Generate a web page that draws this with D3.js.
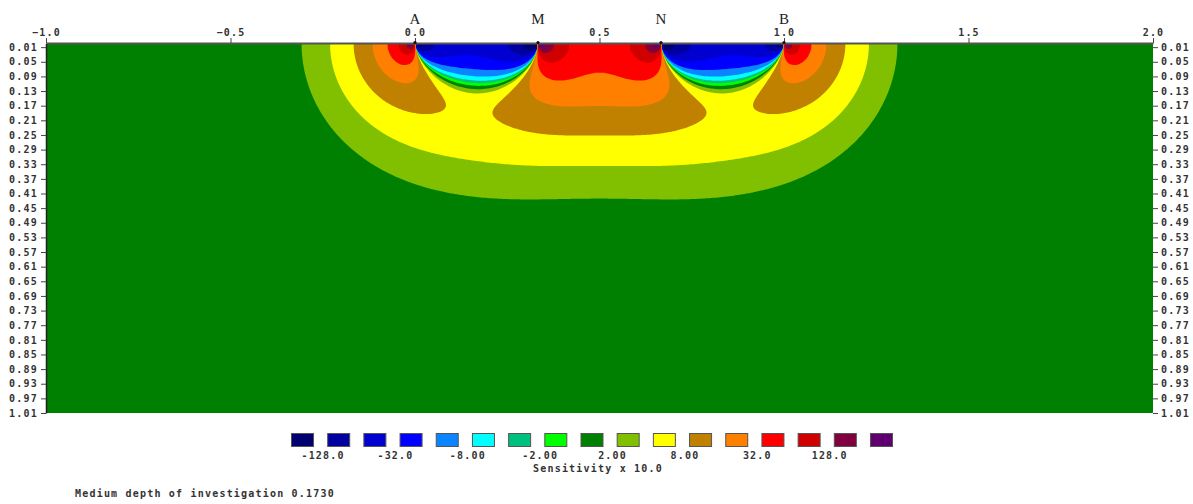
<!DOCTYPE html>
<html>
<head>
<meta charset="utf-8">
<script src="https://cdn.jsdelivr.net/npm/d3@7"></script>
<style>
  body { margin: 0; background: #fff; }
  text { font-family: "DejaVu Sans Mono", monospace; }
</style>
</head>
<body>
<svg id="chart" width="1193" height="504"></svg>
<script>
// electrodes of the Wenner array (position along the line, label)
const electrodeNames = ['A', 'M', 'N', 'B'];
const electrodeX = [0, 1 / 3, 2 / 3, 1];
// current electrode, potential electrode, sign of each pole-pole term
const electrodePairs = [[0, 1, 1], [0, 2, -1], [3, 1, -1], [3, 2, 1]];
const sensFactor = 10; // "Sensitivity x 10.0"
const topModelDepth = 0.01; // first model row

const xTicks = [-1.0, -0.5, 0.0, 0.5, 1.0, 1.5, 2.0];
const depthTicks = [0.01, 0.05, 0.09, 0.13, 0.17, 0.21, 0.25, 0.29, 0.33, 0.37, 0.41, 0.45, 0.49,
  0.53, 0.57, 0.61, 0.65, 0.69, 0.73, 0.77, 0.81, 0.85, 0.89, 0.93, 0.97, 1.01];

// contour levels and the 17 legend colours
const levels = [-128, -64, -32, -16, -8, -4, -2, 0, 2, 4, 8, 16, 32, 64, 128, 256];
const levelColors = ['#000070', '#0000a0', '#0000d0', '#0000ff', '#0a84ff', '#00ffff', '#00c080',
  '#00ff00', '#008000', '#80c000', '#ffff00', '#c08000', '#ff8000', '#ff0000', '#d00000', '#800040', '#600070'];
const legendLabels = ['-128.0', '-32.0', '-8.00', '-2.00', '2.00', '8.00', '32.0', '128.0'];
const medianDepth = 0.1730;

const svg = d3.select('#chart');
const x = d3.scaleLinear().domain([-1, 2]).range([46, 1153]);
const y = d3.scaleLinear().domain([0, 1.01]).range([43.5, 413]);

// sensitivity grid: 2D Frechet derivative (integrated along strike)
const nx = 500, ny = 170;
const dx = 3 / nx, dz = 1.01 / ny;
const du = 0.08, us = d3.range(-10, 6, du);
const ys2 = us.map(u => Math.exp(2 * u)), ws = us.map(u => Math.exp(u) * du);

function sens(px, pz) {
  let sum = 0;
  for (let k = 0; k < ys2.length; k++) {
    const r2 = ys2[k] + pz * pz;
    let s = 0;
    for (const [ci, pi, sg] of electrodePairs) {
      const a = px - electrodeX[ci], b = px - electrodeX[pi];
      const pa = a * a + r2, pb = b * b + r2;
      s += sg * (a * b + r2) / (pa * Math.sqrt(pa) * pb * Math.sqrt(pb));
    }
    sum += s * ws[k];
  }
  return 2 * sum / (4 * Math.PI * Math.PI);
}

const values = new Float64Array(nx * ny);
for (let j = 0; j < ny; j++) {
  const pz = Math.max((j + 0.5) * dz, topModelDepth);
  for (let i = 0; i < nx; i++) {
    values[j * nx + i] = sensFactor * sens(-1 + (i + 0.5) * dx, pz);
  }
}

svg.append('clipPath').attr('id', 'clip').append('rect')
  .attr('x', x(-1)).attr('y', y(0)).attr('width', x(2) - x(-1)).attr('height', y(1.01) - y(0));

const plot = svg.append('g').attr('clip-path', 'url(#clip)');
plot.append('rect').attr('x', x(-1)).attr('y', y(0)).attr('width', x(2) - x(-1)).attr('height', y(1.01) - y(0))
  .attr('fill', levelColors[0]);

const proj = d3.geoTransform({
  point: function (gx, gy) { this.stream.point(x(-1 + gx * dx), y(gy * dz)); }
});
const path = d3.geoPath(proj);
const contours = d3.contours().size([nx, ny]).thresholds(levels)(values);
plot.selectAll('path.level').data(contours).join('path')
  .attr('class', 'level')
  .attr('d', path)
  .attr('fill', (d, i) => levelColors[i + 1]);

// axes
const fmtX = d3.format('.1f'), fmtZ = d3.format('.2f');
function styleAxis(g) {
  g.selectAll('text').attr('font-size', 10).attr('font-weight', 'bold').attr('fill', '#333')
    .attr('letter-spacing', 1.2);
  g.selectAll('.tick line').attr('stroke', '#444');
}
const topAxis = svg.append('g').attr('transform', `translate(0,${y(0) - 0.5})`)
  .call(d3.axisTop(x).tickValues(xTicks).tickFormat(fmtX).tickSize(5).tickSizeOuter(0));
topAxis.select('.domain').attr('stroke', '#555').attr('stroke-width', 2);
styleAxis(topAxis);
topAxis.selectAll('text').attr('dy', '0.1em');

const leftAxis = svg.append('g').attr('transform', `translate(${x(-1)},0)`)
  .call(d3.axisLeft(y).tickValues(depthTicks).tickFormat(fmtZ).tickSize(5).tickSizeOuter(0));
leftAxis.select('.domain').attr('stroke', '#222').attr('stroke-width', 1.5);
styleAxis(leftAxis);

const rightAxis = svg.append('g').attr('transform', `translate(${x(2)},0)`)
  .call(d3.axisRight(y).tickValues(depthTicks).tickFormat(fmtZ).tickSize(5).tickSizeOuter(0));
rightAxis.select('.domain').remove();
styleAxis(rightAxis);

// electrodes
svg.selectAll('circle.el').data(electrodeX).join('circle')
  .attr('class', 'el').attr('cx', d => x(d)).attr('cy', y(0) - 1).attr('r', 1.6).attr('fill', '#111');
svg.selectAll('text.el').data(electrodeX).join('text')
  .attr('class', 'el').attr('x', d => x(d)).attr('y', 24)
  .attr('text-anchor', 'middle')
  .style('font-family', '"Liberation Serif", "DejaVu Serif", serif')
  .attr('font-size', 15).attr('fill', '#222')
  .text((d, i) => electrodeNames[i]);

// legend
const lx = d3.scaleLinear().domain([0, levelColors.length - 1]).range([291, 870]);
const legend = svg.append('g');
legend.selectAll('rect').data(levelColors).join('rect')
  .attr('x', (d, i) => lx(i) + 0.5).attr('y', 433.5).attr('width', 22).attr('height', 13)
  .attr('fill', d => d).attr('stroke', '#555').attr('stroke-width', 1);
legend.selectAll('text.lab').data(legendLabels).join('text')
  .attr('class', 'lab')
  .attr('x', (d, i) => lx(2 * i) + 22 + (lx(1) - lx(0) - 22) / 2 + 3).attr('y', 459)
  .attr('text-anchor', 'middle').attr('font-size', 10).attr('font-weight', 'bold')
  .attr('letter-spacing', 1.2).attr('fill', '#333')
  .text(d => d);
legend.append('text').attr('x', 598).attr('y', 472).attr('text-anchor', 'middle')
  .attr('font-size', 10).attr('font-weight', 'bold').attr('letter-spacing', 1.2).attr('fill', '#333')
  .text('Sensitivity x ' + sensFactor.toFixed(1));

svg.append('text').attr('x', 75).attr('y', 497)
  .attr('font-size', 10).attr('font-weight', 'bold').attr('letter-spacing', 1.2).attr('fill', '#333')
  .text('Medium depth of investigation ' + medianDepth.toFixed(4));
</script>
</body>
</html>
